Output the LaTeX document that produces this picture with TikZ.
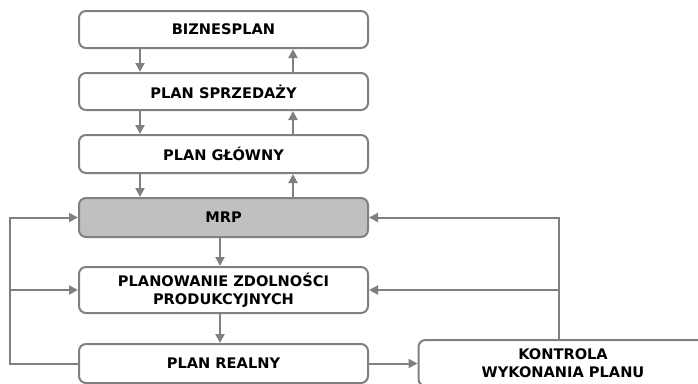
\documentclass[tikz,border=0pt]{standalone}
\usepackage{fontspec}
\setmainfont{DejaVu Sans}
\usetikzlibrary{arrows.meta,calc}
\definecolor{linegray}{RGB}{128,128,128}
\definecolor{mrpfill}{RGB}{192,192,192}
\begin{document}
\begin{tikzpicture}[x=1pt,y=-1pt,
  box/.style={draw=linegray,line width=2pt,rounded corners=7pt,fill=white,
    minimum width=289pt,inner sep=0pt,align=center,
    font=\fontsize{14.6}{18.5}\selectfont\bfseries},
  arr/.style={draw=linegray,line width=2pt,-{Triangle[length=9pt,width=9pt]}}]
\useasboundingbox (0,0) rectangle (698,383);
\clip (0,0) rectangle (698,383);
\node[box,minimum height=37pt] (biz) at (223.5,29.5) {BIZNESPLAN};
\node[box,minimum height=37pt] (sp) at (223.5,91.5) {PLAN SPRZEDAŻY};
\node[box,minimum height=38pt] (gl) at (223.5,154) {PLAN GŁÓWNY};
\node[box,minimum height=39pt,fill=mrpfill] (mrp) at (223.5,217.5) {MRP};
\node[box,minimum height=46pt] (pzp) at (223.5,290) {PLANOWANIE ZDOLNOŚCI\\PRODUKCYJNYCH};
\node[box,minimum height=39pt] (real) at (223.5,363.5) {PLAN REALNY};
\node[box,minimum height=46pt] (kon) at (563,363) {KONTROLA\\WYKONANIA PLANU};
\coordinate (dx) at (140,0);
\coordinate (ux) at (293,0);
\coordinate (mx) at (220,0);
\coordinate (L) at (10,0);
\coordinate (R) at (559,0);
\draw[arr] (biz.south -| dx) -- (sp.north -| dx);
\draw[arr] (sp.south -| dx) -- (gl.north -| dx);
\draw[arr] (gl.south -| dx) -- (mrp.north -| dx);
\draw[arr] (sp.north -| ux) -- (biz.south -| ux);
\draw[arr] (gl.north -| ux) -- (sp.south -| ux);
\draw[arr] (mrp.north -| ux) -- (gl.south -| ux);
\draw[arr] (mrp.south -| mx) -- (pzp.north -| mx);
\draw[arr] (pzp.south -| mx) -- (real.north -| mx);
\draw[arr] (real.west) -- (real.west -| L) |- (mrp.west);
\draw[arr] (pzp.west -| L) -- (pzp.west);
\draw[arr] (real.east) -- (kon.west |- real.east);
\draw[arr] (kon.north -| R) |- (mrp.east);
\draw[arr] (pzp.east -| R) -- (pzp.east);
\end{tikzpicture}
\end{document}
